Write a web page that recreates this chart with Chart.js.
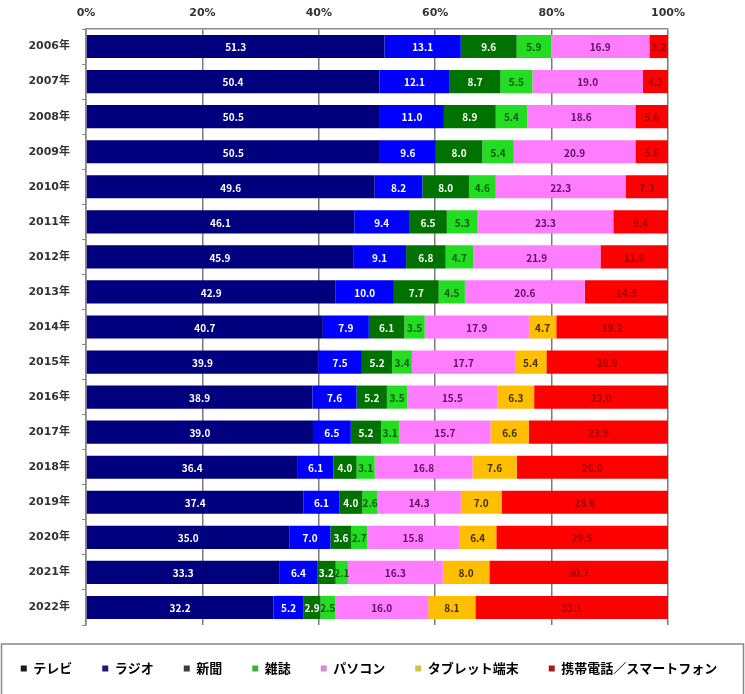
<!DOCTYPE html>
<html>
<head>
<meta charset="utf-8">
<script src="https://cdn.jsdelivr.net/npm/chart.js@4"></script>
<style>
    html, body { margin: 0; padding: 0; background: #fff; }
    #chart { display: block; }
</style>
</head>
<body>
<canvas id="chart" width="745" height="694"></canvas>
<script>
const years = ['2006年', '2007年', '2008年', '2009年', '2010年', '2011年', '2012年', '2013年', '2014年',
    '2015年', '2016年', '2017年', '2018年', '2019年', '2020年', '2021年', '2022年'];

const tv =         [51.3, 50.4, 50.5, 50.5, 49.6, 46.1, 45.9, 42.9, 40.7, 39.9, 38.9, 39.0, 36.4, 37.4, 35.0, 33.3, 32.2];
const radio =      [13.1, 12.1, 11.0, 9.6, 8.2, 9.4, 9.1, 10.0, 7.9, 7.5, 7.6, 6.5, 6.1, 6.1, 7.0, 6.4, 5.2];
const newspaper =  [9.6, 8.7, 8.9, 8.0, 8.0, 6.5, 6.8, 7.7, 6.1, 5.2, 5.2, 5.2, 4.0, 4.0, 3.6, 3.2, 2.9];
const magazine =   [5.9, 5.5, 5.4, 5.4, 4.6, 5.3, 4.7, 4.5, 3.5, 3.4, 3.5, 3.1, 3.1, 2.6, 2.7, 2.1, 2.5];
const pc =         [16.9, 19.0, 18.6, 20.9, 22.3, 23.3, 21.9, 20.6, 17.9, 17.7, 15.5, 15.7, 16.8, 14.3, 15.8, 16.3, 16.0];
const tablet =     [null, null, null, null, null, null, null, null, 4.7, 5.4, 6.3, 6.6, 7.6, 7.0, 6.4, 8.0, 8.1];
const mobile =     [3.2, 4.3, 5.6, 5.6, 7.3, 9.4, 11.6, 14.3, 19.2, 20.9, 23.0, 23.9, 26.0, 28.6, 29.5, 30.7, 33.1];

const xTicks = [0, 20, 40, 60, 80, 100];

const series = [
    { label: 'テレビ', data: tv, color: '#00007f', text: '#ffffff', legend: '#1a1a1a' },
    { label: 'ラジオ', data: radio, color: '#0000ff', text: '#ffffff', legend: '#1a1a80' },
    { label: '新聞', data: newspaper, color: '#007200', text: '#ffffff', legend: '#3a3a3a' },
    { label: '雑誌', data: magazine, color: '#22dd22', text: '#0a5a0a', legend: '#3cb43c' },
    { label: 'パソコン', data: pc, color: '#ff7cff', text: '#5a1060', legend: '#d38ad3' },
    { label: 'タブレット端末', data: tablet, color: '#ffbf00', text: '#3a3000', legend: '#cfc24a' },
    { label: '携帯電話／スマートフォン', data: mobile, color: '#ff0000', text: '#a00000', legend: '#a51a1a' },
];

const FONT = "'Noto Sans CJK JP', 'Noto Sans', sans-serif";
const AXIS_FONT = "'DejaVu Sans', 'Noto Sans CJK JP', sans-serif";

const valueLabels = {
    id: 'valueLabels',
    afterDatasetsDraw(chart) {
        const ctx = chart.ctx;
        ctx.save();
        ctx.font = 'bold 10px ' + FONT;
        ctx.textAlign = 'center';
        ctx.textBaseline = 'middle';
        chart.data.datasets.forEach((ds, i) => {
            const meta = chart.getDatasetMeta(i);
            meta.data.forEach((bar, j) => {
                const v = ds.data[j];
                if (v == null) return;
                ctx.fillStyle = series[i].text;
                ctx.fillText(v.toFixed(1), (bar.x + bar.base) / 2, bar.y + 1);
            });
        });
        ctx.restore();
    }
};

// legend: one row spread over the whole width, framed by a grey box
const legendBox = {
    id: 'legendBox',
    beforeInit(chart) {
        const legend = chart.legend;
        const fit = legend.fit;
        const draw = legend.draw;
        legend.fit = function () {
            this.maxWidth = 5000;
            fit.call(this);
            this.width = chart.width;
            this.height = 69;
        };
        legend.draw = function () {
            const {left, right, top} = this;
            this.left -= 300;
            this.right += 370;
            this.top += 7;
            draw.call(this);
            this.left = left;
            this.right = right;
            this.top = top;
        };
    },
    afterDraw(chart) {
        const ctx = chart.ctx;
        const top = chart.chartArea.bottom + 19;
        ctx.save();
        ctx.strokeStyle = '#888';
        ctx.lineWidth = 1.5;
        ctx.strokeRect(1.5, top, chart.width - 3, chart.height - top + 2);
        ctx.restore();
    }
};

new Chart(document.getElementById('chart'), {
    type: 'bar',
    data: {
        labels: years,
        datasets: series.map(s => ({
            label: s.label,
            data: s.data,
            backgroundColor: s.color,
            borderWidth: 0,
            barPercentage: 0.66,
            categoryPercentage: 1
        }))
    },
    options: {
        indexAxis: 'y',
        responsive: false,
        animation: false,
        layout: { padding: { left: 0, right: 77, top: 0, bottom: 0 } },
        scales: {
            x: {
                position: 'top',
                stacked: true,
                min: 0,
                max: 100,
                afterBuildTicks: axis => { axis.ticks = xTicks.map(v => ({ value: v })); },
                afterFit: axis => { axis.height = 29; },
                ticks: {
                    callback: v => v + '%',
                    color: '#333',
                    font: { family: AXIS_FONT, size: 11, weight: 'bold' },
                    padding: 9
                },
                grid: { color: '#7a7a7a', lineWidth: 1.5, drawTicks: false },
                border: { color: '#8a8a8a', width: 1.5 }
            },
            y: {
                stacked: true,
                afterFit: axis => { axis.width = 86; },
                ticks: {
                    color: '#333',
                    font: { family: AXIS_FONT, size: 11, weight: 'bold' },
                    padding: 12
                },
                grid: { drawOnChartArea: false, tickLength: 4, color: '#888' },
                border: { color: '#888', width: 1.5 }
            }
        },
        plugins: {
            legend: {
                position: 'bottom',
                labels: {
                    boxWidth: 6,
                    boxHeight: 6,
                    padding: 30,
                    color: '#222',
                    font: { family: FONT, size: 13, weight: 'bold' },
                    generateLabels: chart => series.map((s, i) => ({
                        text: s.label,
                        fillStyle: s.legend,
                        strokeStyle: s.legend,
                        lineWidth: 0,
                        datasetIndex: i,
                        hidden: false
                    }))
                }
            },
            tooltip: { enabled: false }
        }
    },
    plugins: [valueLabels, legendBox]
});
</script>
</body>
</html>
